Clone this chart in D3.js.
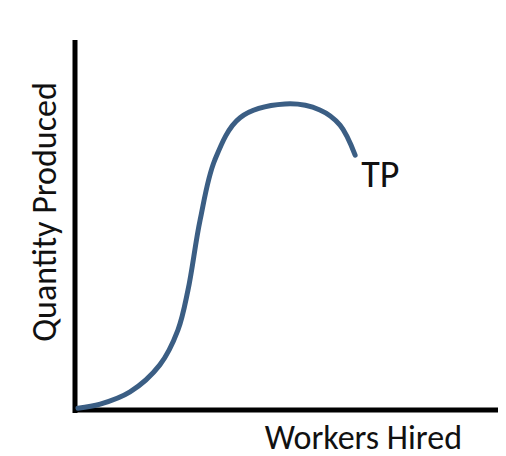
<!DOCTYPE html>
<html>
<head>
<meta charset="utf-8">
<script src="https://cdn.jsdelivr.net/npm/d3@7"></script>
<style>
  body { margin: 0; background: #fff; }
  text { font-family: Calibri, Carlito, "Open Sans", sans-serif; fill: #111; }
</style>
</head>
<body>
<div id="chart-area"></div>
<script>
// workers hired vs quantity produced (arbitrary units)
const workers = [0.07, 0.6, 1.31, 2.02, 2.45, 2.69, 2.98, 3.33, 3.93, 5.0, 5.83, 6.31, 6.67]
const output = [0.05, 0.16, 0.49, 1.22, 2.16, 3.24, 5.14, 6.76, 7.9, 8.27, 8.11, 7.70, 6.89]

const svg = d3.select('#chart-area')
  .append('svg')
  .attr('width', 506)
  .attr('height', 456)

const x = d3.scaleLinear().domain([0, 10]).range([75, 495])
const y = d3.scaleLinear().domain([0, 10]).range([410, 40])

// axes
svg.append('line')
  .attr('x1', x(0)).attr('x2', x(0))
  .attr('y1', y(10)).attr('y2', y(0) + 3)
  .attr('stroke', '#000').attr('stroke-width', 5)
svg.append('line')
  .attr('x1', x(0) - 2).attr('x2', x(10) + 3)
  .attr('y1', y(0)).attr('y2', y(0))
  .attr('stroke', '#000').attr('stroke-width', 5)

const line = d3.line()
  .x((d, i) => x(workers[i]))
  .y((d) => y(d))
  .curve(d3.curveCatmullRom)

svg.append('path')
  .datum(output)
  .attr('d', line)
  .attr('fill', 'none')
  .attr('stroke', '#3b5e84')
  .attr('stroke-width', 5)
  .attr('stroke-linecap', 'round')

svg.append('text')
  .attr('x', x(workers[workers.length - 1]) + 6)
  .attr('y', y(output[output.length - 1]) + 32)
  .attr('font-size', 38)
  .text('TP')

svg.append('text')
  .attr('x', 462)
  .attr('y', 449)
  .attr('text-anchor', 'end')
  .attr('font-size', 34)
  .text('Workers Hired')

svg.append('text')
  .attr('transform', 'translate(56,212) rotate(-90)')
  .attr('text-anchor', 'middle')
  .attr('font-size', 34)
  .text('Quantity Produced')
</script>
</body>
</html>
